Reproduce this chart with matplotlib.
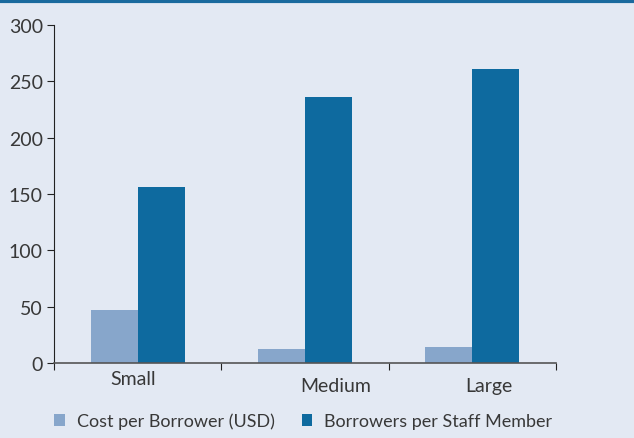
import matplotlib
matplotlib.use("Agg")
import matplotlib.pyplot as plt
import matplotlib.transforms as mtransforms
import numpy as np

categories = ["Small", "Medium", "Large"]
cost_per_borrower = [47, 12, 14]
borrowers_per_staff = [156, 236, 261]
series_labels = ["Cost per Borrower (USD)", "Borrowers per Staff Member"]

bg = "#e3e9f3"
light = "#87a6cb"
dark = "#0e6a9f"
txt = "#383838"

plt.rcParams["font.family"] = ["Lato", "DejaVu Sans"]

fig = plt.figure(figsize=(6.34, 4.39), dpi=100, facecolor=bg)
ax = fig.add_axes([0.0852, 0.1708, 0.7918, 0.77])
ax.set_facecolor(bg)

x = np.arange(len(categories))
w = 0.28
ax.bar(x - w / 2, cost_per_borrower, w, color=light, label=series_labels[0])
ax.bar(x + w / 2, borrowers_per_staff, w, color=dark, label=series_labels[1])

ax.set_xlim(-0.5, 2.5)
ax.set_ylim(0, 300)
ax.set_yticks(range(0, 301, 50))
ax.set_xticks([-0.5, 0.5, 1.5, 2.5])
ax.set_xticklabels([])
ax.set_xticks(x, minor=True)
ax.set_xticklabels(categories, minor=True)
ax.tick_params(axis="x", which="minor", length=0, pad=5, labelsize=14, labelcolor=txt)
ax.tick_params(axis="x", which="major", length=5, color="#222222")
ax.tick_params(axis="y", length=5, color="#222222", labelsize=14, labelcolor=txt, pad=3)

# the original labels sit a little off-centre
shifts = [(-3, 0), (22, -5), (12, -5)]
for lab, (dx, dy) in zip(ax.get_xticklabels(minor=True), shifts):
    lab.set_transform(lab.get_transform() +
                      mtransforms.ScaledTranslation(dx / 72, dy / 72, fig.dpi_scale_trans))

for s in ["top", "right"]:
    ax.spines[s].set_visible(False)
ax.spines["left"].set_color("#222222")
ax.spines["bottom"].set_color("#555555")
ax.spines["bottom"].set_linewidth(1.2)

fig.legend(loc="center left", bbox_to_anchor=(0.0852, 0.0387), ncol=2, frameon=False,
           fontsize=13, labelcolor=txt, handlelength=0.6, handleheight=0.6,
           columnspacing=1.5, handletextpad=0.65, borderpad=0, borderaxespad=0)

# top border line
fig.add_artist(plt.Line2D([0, 1], [0.996, 0.996], color="#1a6a9e", linewidth=3,
                          transform=fig.transFigure))

fig.savefig("out.png", dpi=100, facecolor=bg)
